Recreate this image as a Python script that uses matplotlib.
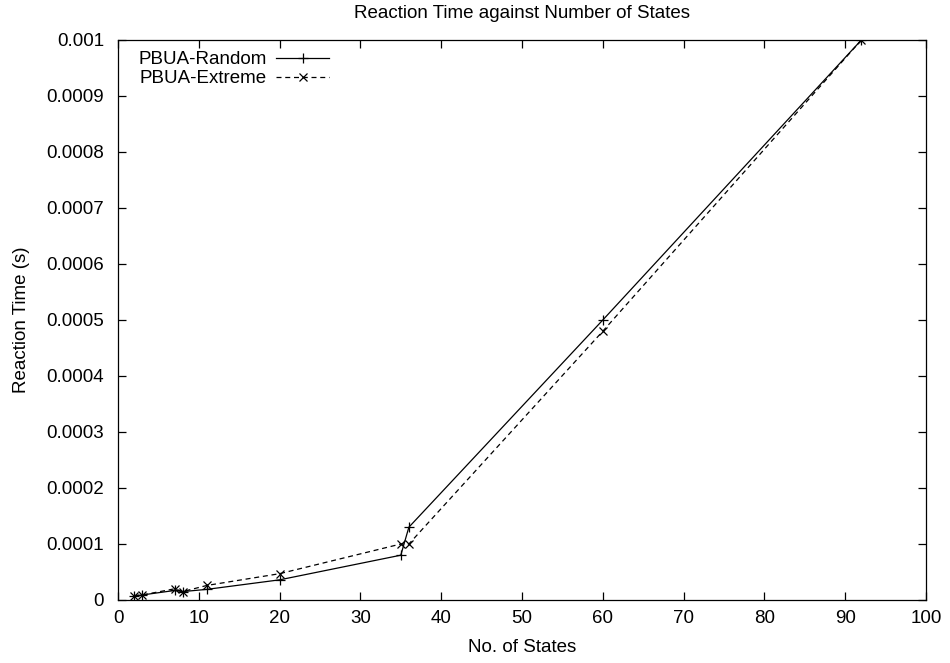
import matplotlib
matplotlib.use("Agg")
import matplotlib.pyplot as plt

plt.rcParams['font.family'] = ['Liberation Sans', 'DejaVu Sans']

states = [2, 3, 7, 8, 11, 20, 35, 36, 60, 92]
random_times = [0.000007, 0.000009, 0.000017, 0.000015, 0.000019, 0.000036, 0.00008, 0.00013, 0.0005, 0.001]
extreme_times = [0.000008, 0.000009, 0.00002, 0.000015, 0.000026, 0.000047, 0.0001, 0.0001, 0.00048, 0.001]

xticks = list(range(0, 101, 10))
yticks = [i * 0.0001 for i in range(11)]
ytick_labels = ['0'] + ['0.%04d' % i for i in range(1, 10)] + ['0.001']

FS = 13.5

fig = plt.figure(figsize=(9.5, 6.63), dpi=100)
ax = fig.add_axes([118/950, 1 - 600/663, (926-118)/950, (600-40)/663])

ax.plot(states, random_times, color='black', lw=0.9, ls='-', marker='+', ms=7, mew=0.9, label='PBUA-Random')
ax.plot(states, extreme_times, color='black', lw=0.9, ls=(0, (4, 3)), marker='x', ms=6, mew=0.9, label='PBUA-Extreme')

ax.set_xlim(0, 100)
ax.set_ylim(0, 0.001)
ax.set_xticks(xticks)
ax.set_yticks(yticks)
ax.set_yticklabels(ytick_labels)
ax.tick_params(axis='x', pad=7)
ax.tick_params(axis='y', pad=10)
ax.tick_params(direction='in', top=True, right=True, length=6, width=0.9, labelsize=FS)
for s in ax.spines.values():
    s.set_linewidth(0.9)

ax.set_xlabel('No. of States', fontsize=FS, labelpad=9)
ax.set_ylabel('Reaction Time (s)', fontsize=FS, labelpad=12)
ax.set_title('Reaction Time against Number of States', fontsize=FS, pad=15.5)

ax.legend(loc='upper left', frameon=False, markerfirst=False, handlelength=2.83,
          fontsize=FS, borderaxespad=0.1, labelspacing=0.1, handletextpad=0.5,
          bbox_to_anchor=(0.014, 0.997))

fig.savefig('out.png', dpi=100)
